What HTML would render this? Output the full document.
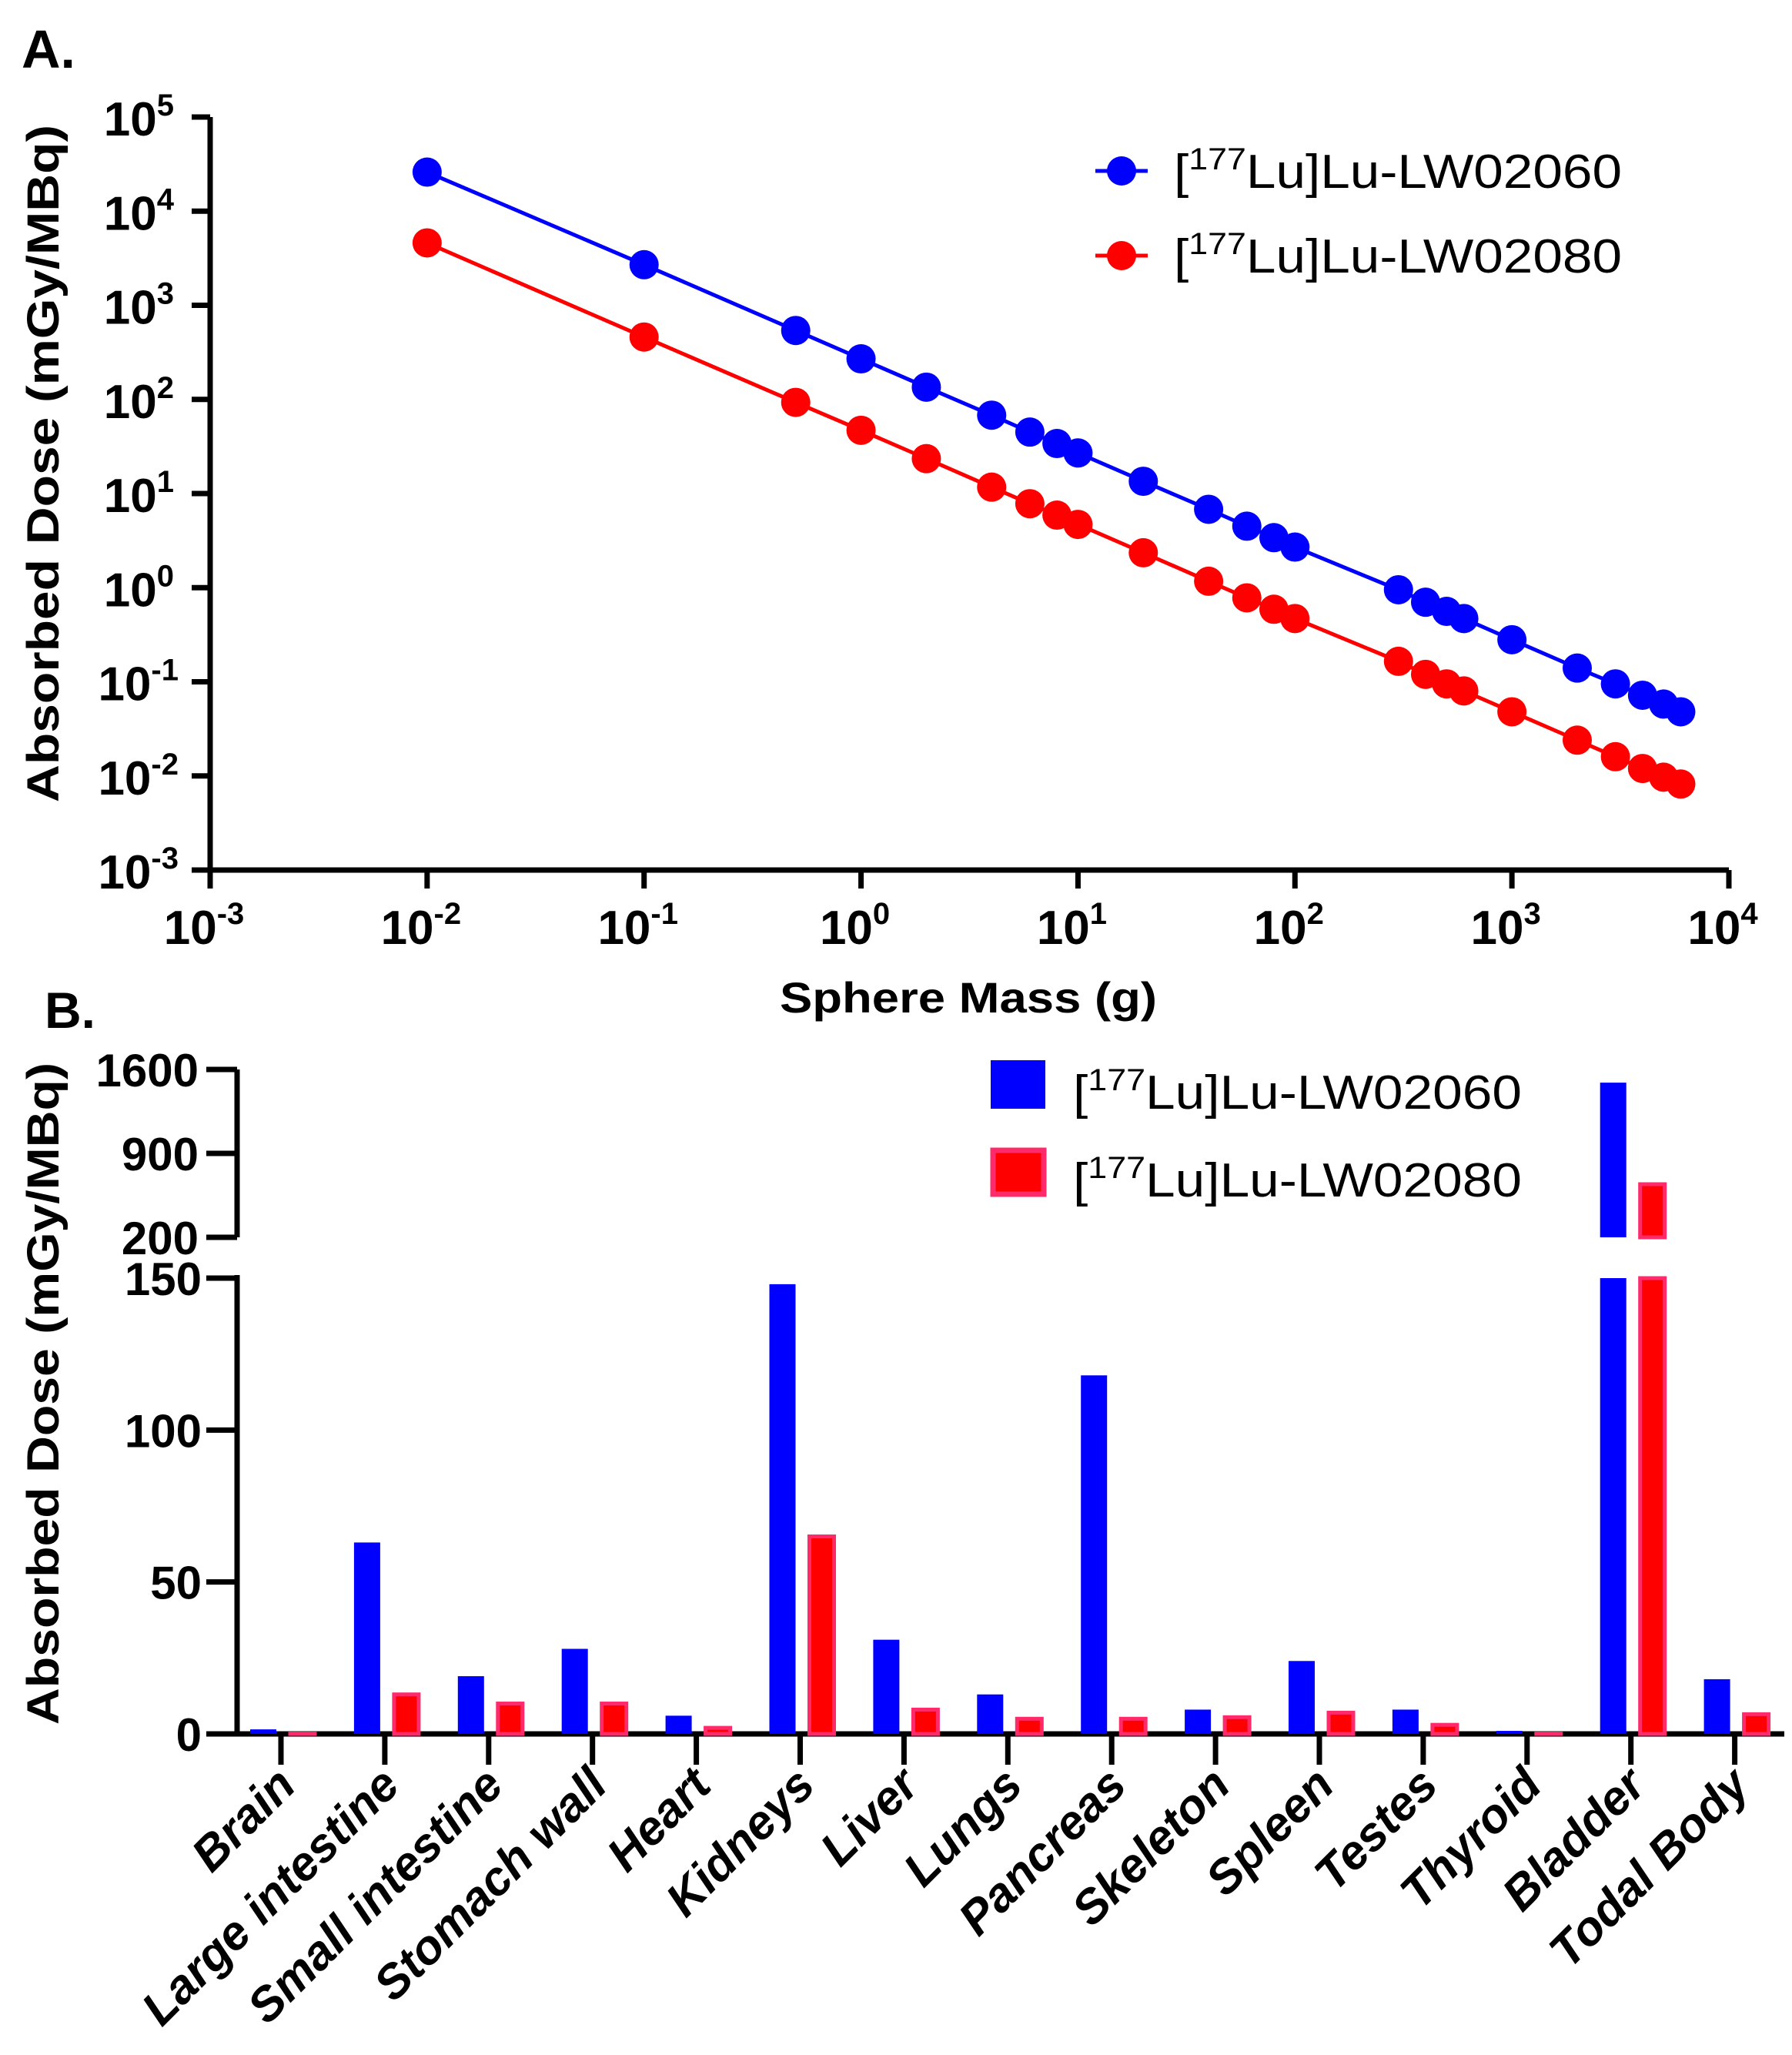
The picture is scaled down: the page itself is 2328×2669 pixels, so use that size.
<!DOCTYPE html>
<html><head><meta charset="utf-8"><style>
html,body{margin:0;padding:0;background:#fff;}
svg{display:block;font-family:"Liberation Sans",sans-serif;}
</style></head><body>
<svg id="fig" width="2328" height="2669" viewBox="0 0 2328 2669">
<g id="A"></g>
<g id="B"></g>
</svg>
<script>
// Panel A data
const massX = [0.01,0.1,0.5,1,2,4,6,8,10,20,40,60,80,100,300,400,500,600,1000,2000,3000,4000,5000,6000];
const doseLW02060 = [26000,2700,540,270,135,68,45,34,27,13.5,6.8,4.5,3.4,2.7,0.95,0.7,0.56,0.47,0.28,0.14,0.095,0.072,0.058,0.048];
const doseLW02080 = [4600,460,93,47,23.5,11.7,7.8,5.9,4.7,2.35,1.17,0.78,0.59,0.47,0.165,0.12,0.095,0.08,0.048,0.024,0.016,0.012,0.0097,0.0082];
const xExpTicks = [-3,-2,-1,0,1,2,3,4];
const yExpTicks = [-3,-2,-1,0,1,2,3,4,5];
// Panel B data
const organs = ["Brain","Large intestine","Small intestine","Stomach wall","Heart","Kidneys","Liver","Lungs","Pancreas","Skeleton","Spleen","Testes","Thyroid","Bladder","Todal Body"];
const organLW02060 = [1.5,63,19,28,6,148,31,13,118,8,24,8,1,1490,18];
const organLW02080 = [0.1,13,10,10,2,65,8,5,5,5.5,7,3,0.1,643,6.5];
const lowTicks = [0,50,100,150];
const highTicks = [200,900,1600];

const NS="http://www.w3.org/2000/svg";
function mk(parent,tag,attrs,text){const e=document.createElementNS(NS,tag);for(const k in attrs)e.setAttribute(k,attrs[k]);if(text!==undefined)e.textContent=text;parent.appendChild(e);return e;}

// ---------- Panel A ----------
const A=document.getElementById('A');
const ax0=273, ax1=2246, ay0=1130, ay1=152;
const xA=v=>ax0+(Math.log10(v)+3)/7*(ax1-ax0);
const yA=v=>ay0-(Math.log10(v)+3)/8*(ay0-ay1);
let t=mk(A,'text',{x:28,y:88,'font-size':70,'font-weight':'bold'},'A.');


let ax=mk(A,'path',{d:`M${ax0} ${ay1}V${ay0}H${ax1}`,stroke:'#000','stroke-width':7,fill:'none'});


yExpTicks.forEach(e=>{
  const y=yA(Math.pow(10,e));
  mk(A,'line',{x1:ax0-24,x2:ax0,y1:y,y2:y,stroke:'#000','stroke-width':7});
  const tx=mk(A,'text',{x:e<0?232:226,y:y+24,'text-anchor':'end','font-size':62,'font-weight':'bold'});
  
  
  mk(tx,'tspan',{},'10');mk(tx,'tspan',{dy:-26,'font-size':40},String(e));
});
xExpTicks.forEach(e=>{
  const x=xA(Math.pow(10,e));
  mk(A,'line',{x1:x,x2:x,y1:ay0,y2:ay0+24,stroke:'#000','stroke-width':7});
  const tx=mk(A,'text',{x:x-8,y:1226,'text-anchor':'middle','font-size':62,'font-weight':'bold'});
  
  
  mk(tx,'tspan',{},'10');mk(tx,'tspan',{dy:-26,'font-size':40},String(e));
});
t=mk(A,'text',{x:1258,y:1315,'text-anchor':'middle','font-size':56,'font-weight':'bold',textLength:490,lengthAdjust:'spacingAndGlyphs'},'Sphere Mass (g)');


t=mk(A,'text',{x:0,y:0,'text-anchor':'middle','font-size':58,'font-weight':'bold',textLength:880,lengthAdjust:'spacingAndGlyphs',transform:'translate(76,602) rotate(-90)'},'Absorbed Dose (mGy/MBq)');


[[doseLW02060,'#0000ff','lw02060'],[doseLW02080,'#ff0000','lw02080']].forEach(([ys,c,n])=>{
  const g=mk(A,'g',{});
  
  
  mk(g,'polyline',{points:massX.map((x,i)=>xA(x)+','+yA(ys[i])).join(' '),fill:'none',stroke:c,'stroke-width':5});
  massX.forEach((x,i)=>{
    const p=mk(g,'circle',{cx:xA(x),cy:yA(ys[i]),r:19,fill:c});
    
    
  });
});
[['#0000ff','02060',222],['#ff0000','02080',332]].forEach(([c,n,y])=>{
  const g=mk(A,'g',{});
  
  
  mk(g,'line',{x1:1423,x2:1491,y1:y,y2:y,stroke:c,'stroke-width':5});
  mk(g,'circle',{cx:1457,cy:y,r:19,fill:c});
  const tx=mk(g,'text',{x:1525,y:y+22,'font-size':62,textLength:582,lengthAdjust:'spacingAndGlyphs'});
  mk(tx,'tspan',{},'[');mk(tx,'tspan',{dy:-24,'font-size':40},'177');mk(tx,'tspan',{dy:24},'Lu]Lu-LW'+n);
});

// ---------- Panel B ----------
const B=document.getElementById('B');
const bx0=308, bx1=2318, by0=2252, by150=1660, yH200=1607, yH1600=1389;
const yLow=v=>by0-Math.min(v,150)/150*(by0-by150);
const yHigh=v=>yH200-(v-200)/1400*(yH200-yH1600);
const cx=i=>365+134.9*i;
t=mk(B,'text',{x:58,y:1335,'font-size':66,'font-weight':'bold'},'B.');


ax=mk(B,'path',{d:`M${bx0} ${by150-4}V${by0}H${bx1}M${bx0} ${yH1600}V${yH200}`,stroke:'#000','stroke-width':7,fill:'none'});


lowTicks.forEach(v=>{
  const y=yLow(v);
  mk(B,'line',{x1:bx0-40,x2:bx0,y1:y,y2:y,stroke:'#000','stroke-width':7});
  const tx=mk(B,'text',{x:262,y:y+22,'text-anchor':'end','font-size':60,'font-weight':'bold'},String(v));
  
  
});
highTicks.forEach(v=>{
  const y=yHigh(v);
  mk(B,'line',{x1:bx0-40,x2:bx0,y1:y,y2:y,stroke:'#000','stroke-width':7});
  const tx=mk(B,'text',{x:258,y:y+22,'text-anchor':'end','font-size':60,'font-weight':'bold'},String(v));
  
  
});
t=mk(B,'text',{x:0,y:0,'text-anchor':'middle','font-size':58,'font-weight':'bold',textLength:860,lengthAdjust:'spacingAndGlyphs',transform:'translate(76,1810) rotate(-90)'},'Absorbed Dose (mGy/MBq)');


function bar(x,w,v,fill,stroke,name){
  const g=mk(B,'g',{});
  
  
  const sw=stroke?5:0;
  mk(g,'rect',{x:x,y:yLow(v),width:w,height:by0-yLow(v),fill:fill,stroke:stroke||'none','stroke-width':sw});
  if(v>200){mk(g,'rect',{x:x,y:yHigh(v),width:w,height:yH200-yHigh(v),fill:fill,stroke:stroke||'none','stroke-width':sw});}
}
organs.forEach((o,i)=>{
  const c=cx(i);
  bar(c-40,34,organLW02060[i],'#0000ff',null,'bar-lw02060-'+i);
  bar(c+12,32,organLW02080[i],'#ff0000','#ff2a6a','bar-lw02080-'+i);
  mk(B,'line',{x1:c,x2:c,y1:by0,y2:by0+40,stroke:'#000','stroke-width':7});
  const tx=mk(B,'text',{x:0,y:0,'text-anchor':'end','font-size':62,'font-weight':'bold','font-style':'italic',transform:`translate(${c+22},${2322}) rotate(-45)`},o);
  
  
});
[['#0000ff',null,'02060',1377,1440],['#ff0000','#ff2a6a','02080',1491,1554]].forEach(([c,s,n,y,yb])=>{
  const g=mk(B,'g',{});
  
  
  mk(g,'rect',{x:s?1290:1287,y:s?y+3:y,width:s?66:71,height:s?57:63,fill:c,stroke:s||'none','stroke-width':s?7:0});
  const tx=mk(g,'text',{x:1394,y:yb,'font-size':62,textLength:583,lengthAdjust:'spacingAndGlyphs'});
  mk(tx,'tspan',{},'[');mk(tx,'tspan',{dy:-24,'font-size':40},'177');mk(tx,'tspan',{dy:24},'Lu]Lu-LW'+n);
});
</script>
</body></html>
